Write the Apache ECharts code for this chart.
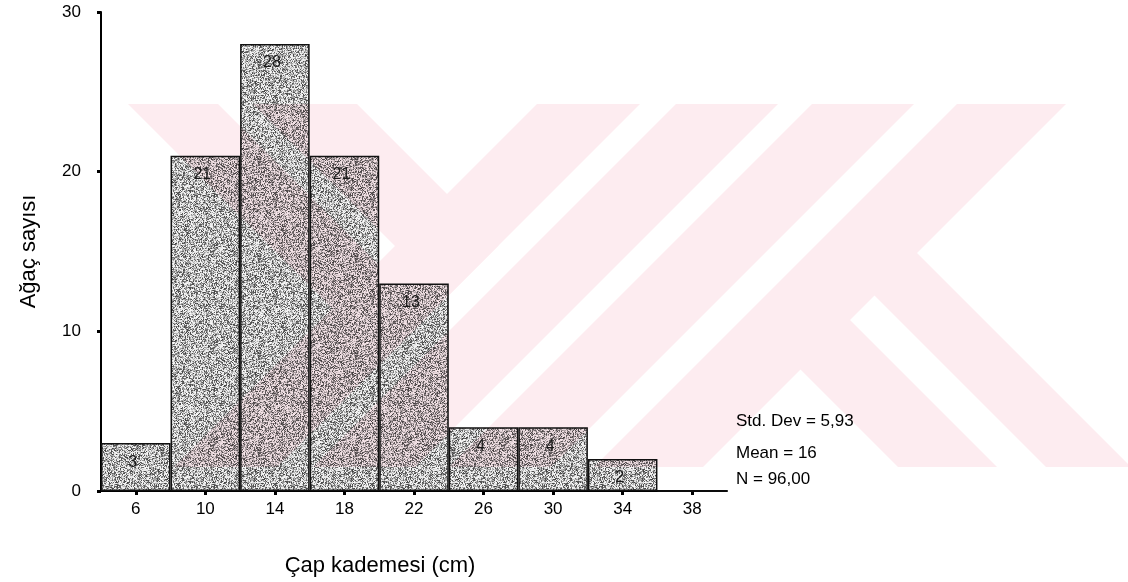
<!DOCTYPE html>
<html>
<head>
<meta charset="utf-8">
<script src="https://cdn.jsdelivr.net/npm/echarts@6/dist/echarts.min.js"></script>
<style>
  html, body { margin: 0; padding: 0; background: #ffffff; }
  #chart { width: 1128px; height: 582px; }
</style>
</head>
<body>
<div id="chart"></div>
<script>
// Diameter classes (class centre, cm) and number of trees in each class
const classCenters = ['6', '10', '14', '18', '22', '26', '30', '34', '38'];
const treeCounts = [3, 21, 28, 21, 13, 4, 4, 2, 0];
const countTicks = [0, 10, 20, 30];
const statLines = ['Std. Dev = 5,93', 'Mean = 16', 'N = 96,00'];

const FONT = '"Liberation Sans", Arial, Helvetica, sans-serif';

// Stippled grey fill: black ink with varying opacity, so whatever lies
// underneath shows through the light specks
function makeGrainTile(size) {
  const cv = document.createElement('canvas');
  cv.width = size; cv.height = size;
  const ctx = cv.getContext('2d');
  const img = ctx.createImageData(size, size);
  const hash = (n) => { const s = Math.sin(n * 12.9898 + 78.233) * 43758.5453; return s - Math.floor(s); };
  for (let y = 0; y < size; y++) {
    for (let x = 0; x < size; x++) {
      const r = hash(x * 131 + y * 977 + 17);
      const j = hash(x * 71 + y * 313 + 5);
      let v;
      if (r < 0.29) v = 65 + j * 60;
      else if (r < 0.57) v = 145 + j * 45;
      else v = 218 + j * 34;
      const i = (y * size + x) * 4;
      img.data[i] = img.data[i + 1] = img.data[i + 2] = 0;
      img.data[i + 3] = Math.round(255 - v);
    }
  }
  ctx.putImageData(img, 0, 0);
  return cv;
}
const grain = makeGrainTile(97);

// Background mark: diagonal bands clipped to a rectangle (pixel space)
function clipHalf(poly, a, b, c) { // keep a*x + b*y <= c
  const out = [];
  for (let i = 0; i < poly.length; i++) {
    const p = poly[i], q = poly[(i + 1) % poly.length];
    const fp = a * p[0] + b * p[1] - c, fq = a * q[0] + b * q[1] - c;
    if (fp <= 0) out.push(p);
    if ((fp < 0 && fq > 0) || (fp > 0 && fq < 0)) {
      const t = fp / (fp - fq);
      out.push([p[0] + t * (q[0] - p[0]), p[1] + t * (q[1] - p[1])]);
    }
  }
  return out;
}
function band(rules) {
  let poly = [[128, 104], [1128, 104], [1128, 467], [128, 467]];
  rules.forEach(([a, b, lo, hi]) => {
    if (hi != null) poly = clipHalf(poly, a, b, hi);
    if (lo != null) poly = clipHalf(poly, -a, -b, -lo);
  });
  return poly;
}
const markBands = [
  band([[1, 1, 641, 744]]),
  band([[1, 1, 780, 882]]),
  band([[1, 1, 916, 1018]]),
  band([[1, 1, 1061, 1170]]),
  band([[1, -1, 24, 114], [1, 1, null, 744]]),
  band([[1, -1, 149, 253], [1, 1, null, 744]]),
  band([[1, -1, 579, 664], [1, 1, 1166, null]]),
  band([[1, -1, 431, 530], [1, 1, 1166, null]])
];
const markGraphics = markBands.filter(pts => pts.length > 2).map(pts => ({
  type: 'polygon',
  z: -10,
  silent: true,
  shape: { points: pts },
  style: { fill: '#fdecf0' }
}));

const statGraphics = statLines.map((t, i) => ({
  type: 'text',
  z: 30,
  left: 736,
  top: [413, 445, 471][i],
  style: { text: t, font: '17px ' + FONT, fill: '#000000' }
}));

const chart = echarts.init(document.getElementById('chart'), null, { renderer: 'canvas' });
chart.setOption({
  animation: false,
  backgroundColor: '#ffffff',
  grid: { left: 101, right: 401, top: 12, bottom: 90, containLabel: false },
  xAxis: {
    type: 'category',
    data: classCenters,
    boundaryGap: true,
    name: 'Çap kademesi (cm)',
    nameLocation: 'middle',
    nameGap: 64,
    nameTextStyle: { fontFamily: FONT, fontSize: 22, color: '#000', padding: [0, 68, 0, 0] },
    axisLine: { show: true, lineStyle: { color: '#000', width: 2 } },
    axisTick: { show: true, alignWithLabel: true, interval: 0, length: 4, lineStyle: { color: '#000', width: 3 } },
    axisLabel: { interval: 0, margin: 10, fontFamily: FONT, fontSize: 17, color: '#000' },
    splitLine: { show: false }
  },
  yAxis: {
    type: 'value',
    min: countTicks[0],
    max: countTicks[countTicks.length - 1],
    interval: countTicks[1] - countTicks[0],
    name: 'Ağaç sayısı',
    nameLocation: 'middle',
    nameGap: 61,
    nameRotate: 90,
    nameTextStyle: { fontFamily: FONT, fontSize: 22, color: '#000' },
    axisLine: { show: true, lineStyle: { color: '#000', width: 2 } },
    axisTick: { show: true, length: 4, lineStyle: { color: '#000', width: 3 } },
    axisLabel: { margin: 20, fontFamily: FONT, fontSize: 17, color: '#000', padding: [4, 0, 0, 0] },
    splitLine: { show: false }
  },
  series: [{
    type: 'bar',
    z: 2,
    data: treeCounts,
    barCategoryGap: '0%',
    barGap: '0%',
    itemStyle: {
      color: { image: grain, repeat: 'repeat' },
      borderColor: '#111',
      borderWidth: 1.5
    },
    label: {
      show: true,
      position: 'insideTop',
      distance: 11,
      offset: [-3, 0],
      fontFamily: FONT,
      fontSize: 16,
      color: '#1a1a1a',
      formatter: p => (p.value > 0 ? String(p.value) : '')
    }
  }],
  graphic: markGraphics.concat(statGraphics)
});
</script>
</body>
</html>
